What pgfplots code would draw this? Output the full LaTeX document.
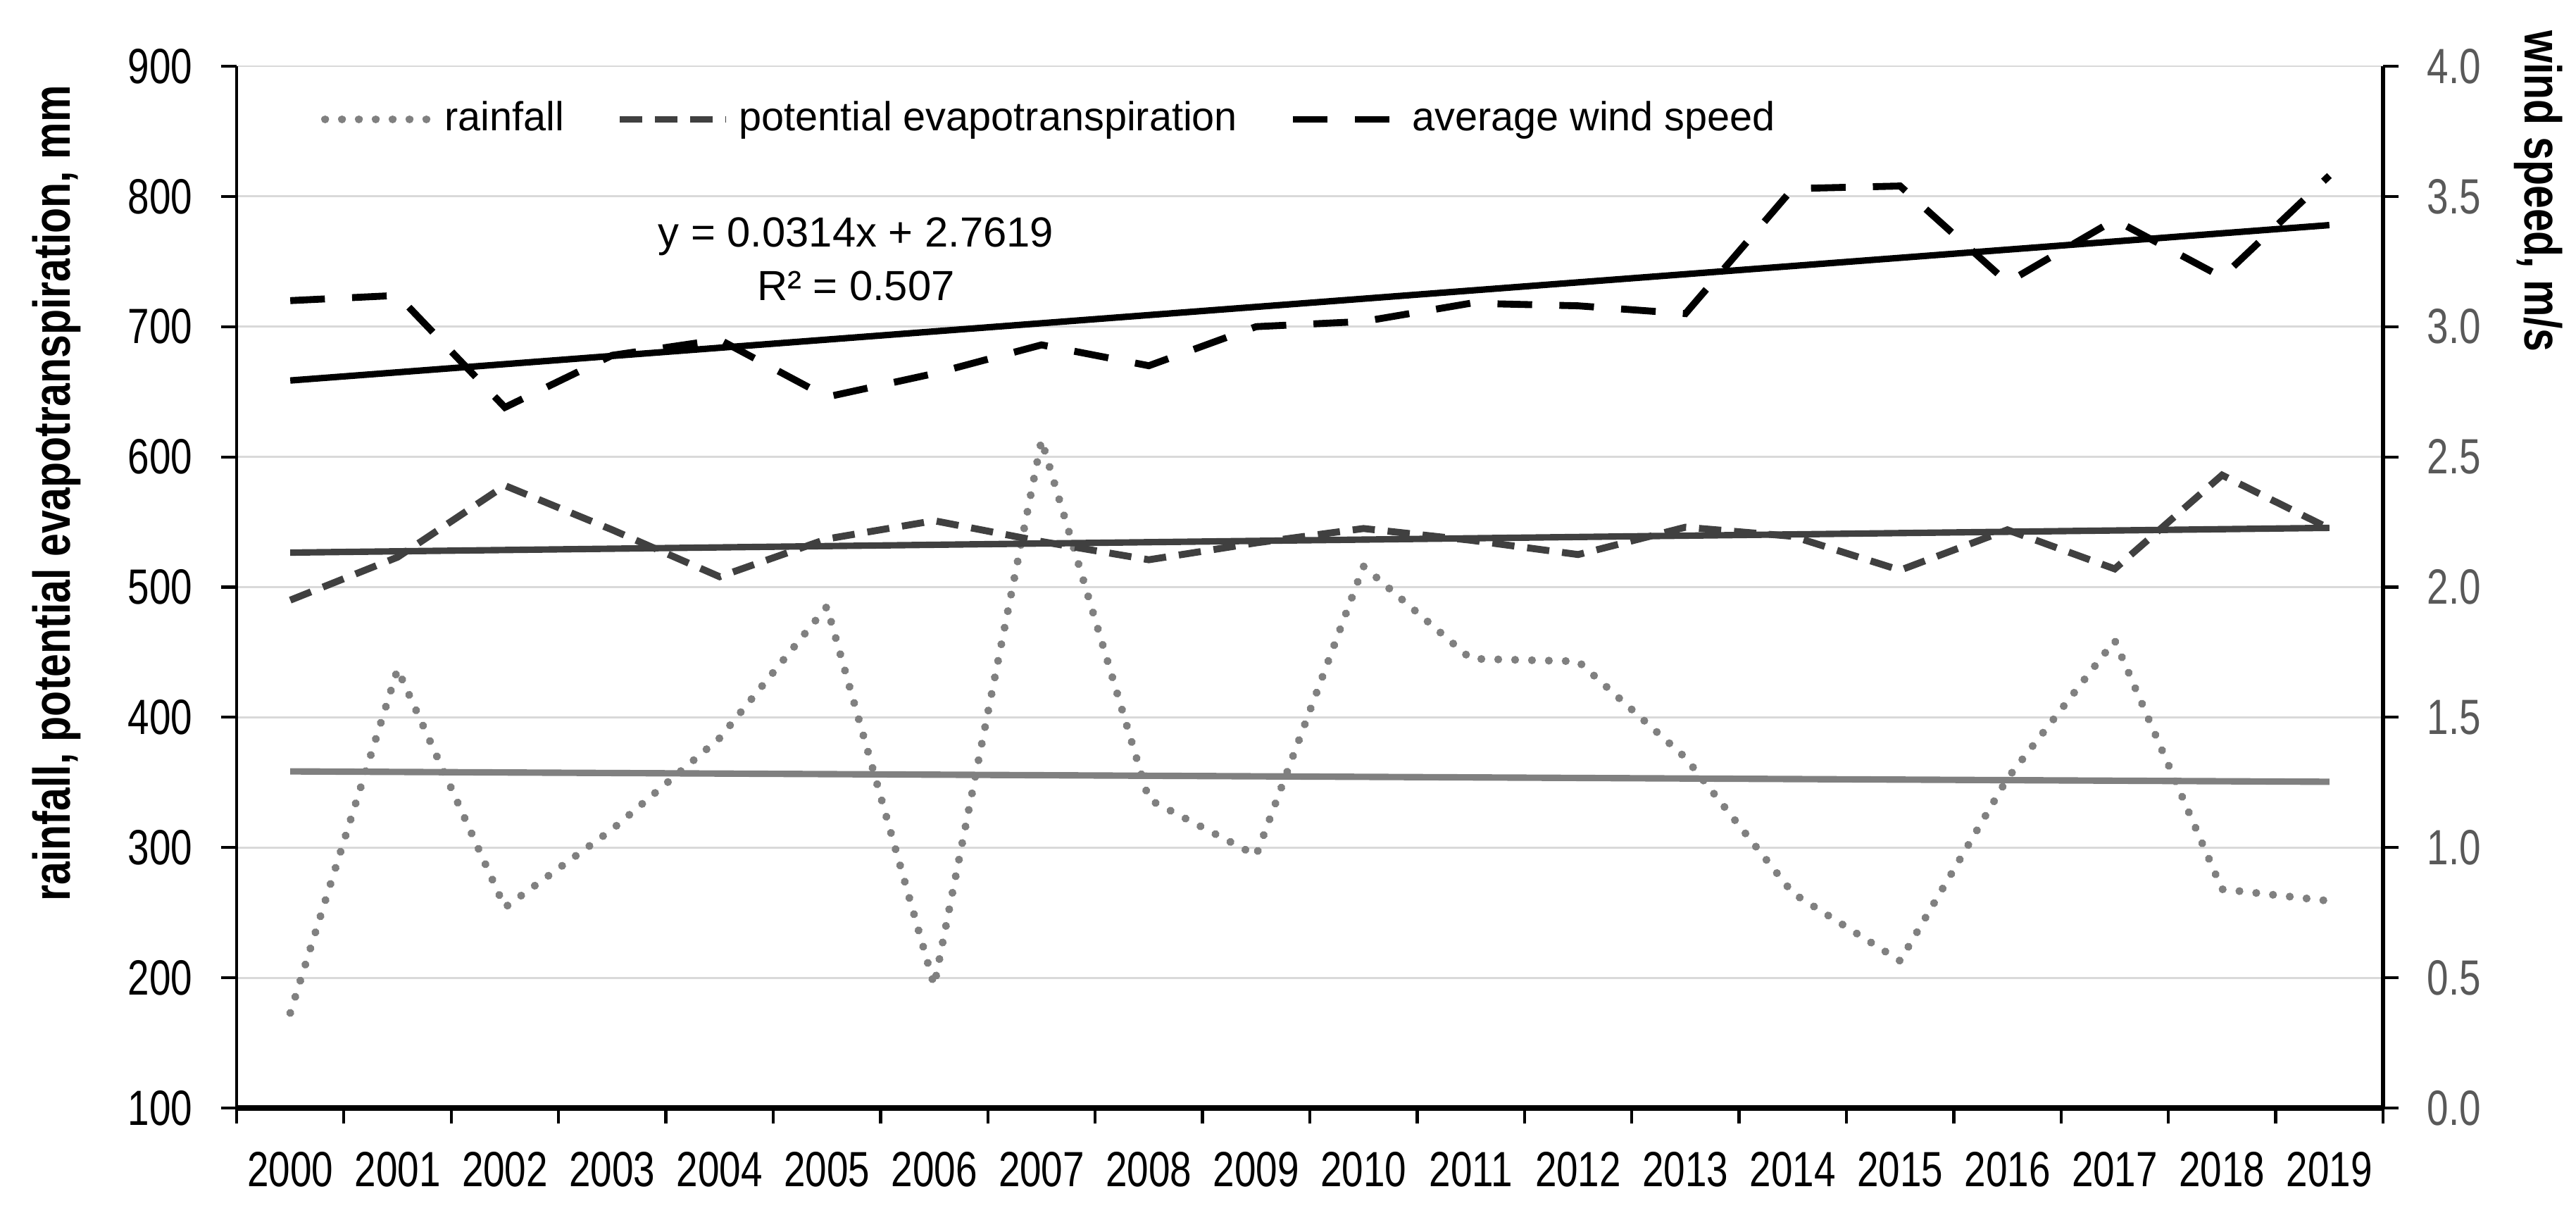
\documentclass[border=0pt]{standalone}
\usepackage{pgfplots}
\pgfplotsset{compat=1.18}
\usepackage{pgfplotstable}
\usepackage{fontspec}
\setmainfont{Liberation Sans}
\newfontfamily\narrowfont{Liberation Sans}[FakeStretch=0.78]
\newfontfamily\labelfont{Liberation Sans}[FakeStretch=0.8]

\definecolor{raingray}{RGB}{128,128,128}
\definecolor{petgray}{RGB}{64,64,64}
\definecolor{gridgray}{RGB}{217,217,217}
\definecolor{ticgray}{RGB}{89,89,89}

% yearly values, 2000-2019 plotted at 0..19
\pgfplotstableread{
idx rain pet wind
0  173 490 3.10
1  437 523 3.12
2  254 578 2.69
3  314 544 2.89
4  384 508 2.95
5  485 537 2.73
6  194 551 2.82
7  613 535 2.93
8  337 521 2.85
9  294 534 3.00
10 516 545 3.02
11 445 536 3.09
12 443 525 3.08
13 369 546 3.05
14 265 539 3.53
15 213 513 3.54
16 353 544 3.17
17 459 514 3.41
18 268 586 3.19
19 259 545 3.58
}\climate

\tikzset{
  rainstyle/.style={raingray, line width=1.6pt, line cap=round, dash pattern=on 0.01pt off 3.4pt},
  petstyle/.style={petgray, line width=1.4pt, dash pattern=on 4.5pt off 2.6pt},
  windstyle/.style={black, line width=1.4pt, dash pattern=on 7pt off 5.5pt},
}

\pgfplotsset{
  common/.style={
    width=15.24cm, height=7.395cm, scale only axis,
    xmin=-0.5, xmax=19.5,
    tick align=outside,
    major tick length=0.11cm,
    ticklabel style={font=\narrowfont\fontsize{10}{12}\selectfont},
    /pgf/number format/assume math mode=true,
    ylabel style={font=\labelfont\bfseries\fontsize{10.5}{12}\selectfont},
  },
}

\begin{document}
\begin{tikzpicture}
\useasboundingbox (-1.68,-0.795) rectangle (16.61,7.865);
\begin{axis}[common,
    ymin=100, ymax=900,
    ytick={100,200,...,900},
    axis x line*=bottom, axis y line*=left,
    x axis line style={line width=1pt},
    y axis line style={line width=0.5pt},
    tick style={black, line width=0.6pt},
    xtick={-0.5,0.5,...,19.5},
    x tick label as interval,
    xticklabels={2000,2001,2002,2003,2004,2005,2006,2007,2008,2009,2010,2011,2012,2013,2014,2015,2016,2017,2018,2019},
    xticklabel style={yshift=-0.08cm},
    yticklabel style={xshift=-0.08cm},
    ymajorgrids, grid style={gridgray, line width=0.4pt},
    ylabel={rainfall, potential evapotranspiration, mm},
    ylabel style={at={(axis description cs:-0.084,0.59)}, anchor=center},
    legend style={at={(axis description cs:0.032,0.949)}, anchor=west,
      draw=none, fill=none, legend columns=3,
      font=\fontsize{8.2}{9.5}\selectfont,
      /tikz/every even column/.append style={column sep=0.3cm}},
    legend image code/.code={\draw[#1] (0cm,0cm) -- (0.75cm,0cm);},
  ]
  \addplot[rainstyle] table[x=idx, y=rain] {\climate};
  \addlegendentry{rainfall}
  \addplot[raingray, line width=1.3pt, forget plot] coordinates {(0,358.5) (19,350.5)};
  \addplot[petstyle] table[x=idx, y=pet] {\climate};
  \addlegendentry{potential evapotranspiration}
  \addplot[petgray, line width=1.3pt, forget plot] coordinates {(0,526.5) (19,545.5)};
  \addlegendimage{windstyle}
  \addlegendentry{average wind speed}
  \node[align=center, font=\fontsize{8.5}{10.8}\selectfont] at (axis cs:5.27,752)
    {y = 0.0314x + 2.7619\\R² = 0.507};
\end{axis}
\begin{axis}[common,
    ymin=0, ymax=4,
    ytick={0,0.5,...,4},
    axis y line*=right, axis x line=none,
    y axis line style={line width=0.85pt},
    tick style={black, line width=0.6pt},
    yticklabel style={ticgray, xshift=0.08cm,
      /pgf/number format/.cd, fixed, fixed zerofill, precision=1},
    ylabel={wind speed, m/s},
    ylabel style={at={(axis description cs:1.0725,0.88)}, anchor=center, rotate=180},
  ]
  \addplot[windstyle] table[x=idx, y=wind] {\climate};
  \addplot[black, line width=1.3pt] coordinates {(0,2.7933) (19,3.3899)};
\end{axis}
\end{tikzpicture}
\end{document}
